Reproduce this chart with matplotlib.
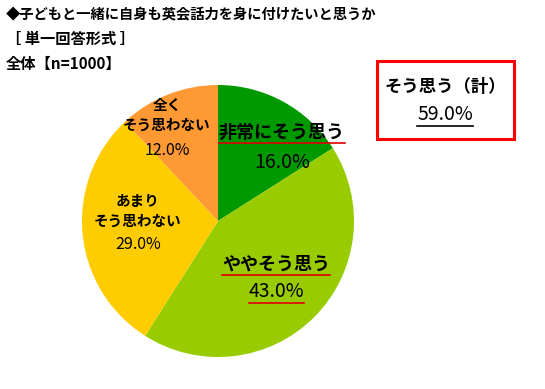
import matplotlib
matplotlib.use("Agg")
import matplotlib.pyplot as plt
from matplotlib.patches import Rectangle

plt.rcParams["font.family"] = ["Noto Sans CJK JP", "DejaVu Sans"]

# Data
categories = ["非常にそう思う", "ややそう思う", "あまり\nそう思わない", "全く\nそう思わない"]
values = [16.0, 43.0, 29.0, 12.0]
colors = ["#009900", "#99CC00", "#FFCC00", "#FF9933"]
title_lines = ["◆子どもと一緒に自身も英会話力を身に付けたいと思うか", "［ 単一回答形式 ］", "全体【n=1000】"]
total_label = "そう思う（計）"
total_value = 59.0

W, H = 545, 389
fig = plt.figure(figsize=(W / 100, H / 100), dpi=100)

# pie axes placed in pixel terms: centre (218, 221), radius 136
cx, cy, r = 218, 221, 136
ax = fig.add_axes([(cx - r) / W, (H - cy - r) / H, 2 * r / W, 2 * r / H])
ax.pie(values, colors=colors, startangle=90, counterclock=False, radius=1,
       wedgeprops=dict(linewidth=0))
ax.set_xlim(-1, 1)
ax.set_ylim(-1, 1)
ax.set_aspect("equal")
ax.axis("off")

# titles
title_sizes = [10.3, 11, 11]
for i, line in enumerate(title_lines):
    fig.text(6 / W, 1 - (14 + 25 * i) / H, line, fontsize=title_sizes[i],
             fontweight="bold", ha="left", va="center")

fig.canvas.draw()
renderer = fig.canvas.get_renderer()


def underline(txt, color, pad=2):
    bb = txt.get_window_extent(renderer)
    y = bb.y0 - pad
    fig.add_artist(plt.Line2D([bb.x0 / W, bb.x1 / W], [y / H, y / H],
                              transform=fig.transFigure, color=color, lw=1.2))


# big labels (with underline)
big = [(0, 0.47, 0.65, 0.43), (1, 0.43, -0.32, -0.52)]
for idx, x, y_lab, y_val in big:
    t1 = ax.text(x, y_lab, categories[idx], fontsize=13, fontweight="bold",
                 ha="center", va="center")
    t2 = ax.text(x, y_val, f"{values[idx]:.1f}%", fontsize=14,
                 ha="center", va="center")
    fig.canvas.draw()
    underline(t1, "#E00000", pad=1)
    if idx == 1:
        underline(t2, "#E00000", pad=1)

# small labels
small = [(2, -0.59, 0.074, 0.245), (3, -0.375, 0.78, 0.26)]
for idx, x, y, off in small:
    ax.text(x, y, categories[idx], fontsize=10.5, fontweight="bold",
            ha="center", va="center", linespacing=1.3)
    ax.text(x, y - off, f"{values[idx]:.1f}%", fontsize=11.5,
            ha="center", va="center")

# total box
fig.add_artist(Rectangle((377 / W, 1 - 139 / H), 137 / W, 78 / H,
                         transform=fig.transFigure, fill=False,
                         edgecolor="#FF0000", lw=2.2))
fig.text(445 / W, 1 - 87 / H, total_label, fontsize=12.5, fontweight="bold",
         ha="center", va="center")
tv = fig.text(445 / W, 1 - 114 / H, f"{total_value:.1f}%", fontsize=14,
              ha="center", va="center")
fig.canvas.draw()
underline(tv, "black", pad=1)

fig.savefig("out.png", dpi=100)
